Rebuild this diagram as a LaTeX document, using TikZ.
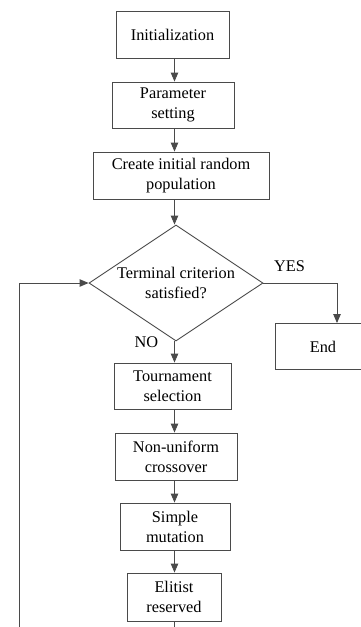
\documentclass[tikz,border=0pt]{standalone}
\usepackage{fontspec}
\setmainfont{Liberation Serif}
\usetikzlibrary{shapes.geometric,arrows.meta}
\definecolor{ln}{HTML}{4A4A4A}
\begin{document}
\begin{tikzpicture}[x=1pt,y=-1pt,
  every node/.style={font=\fontsize{16.3}{20}\selectfont, text=black},
  box/.style={draw=ln, line width=0.9pt, rectangle, inner sep=0pt, align=center},
  dec/.style={draw=ln, line width=0.9pt, diamond, aspect=1.5, inner sep=-12pt, align=center, minimum width=174pt, minimum height=116pt},
  arr/.style={draw=ln, line width=0.9pt, -{Triangle[length=9pt,width=7.5pt]}},
  ln/.style={draw=ln, line width=0.9pt}]
\useasboundingbox (0,0) rectangle (360,627);
\node[box, minimum width=113pt, minimum height=47pt] (init) at (172.5,34.5) {Initialization};
\node[box, minimum width=122pt, minimum height=46pt] (param) at (173,105) {Parameter\\setting};
\node[box, minimum width=176pt, minimum height=47pt] (create) at (181,175.5) {Create initial random\\population};
\node[dec] (dia) at (176,283) {Terminal criterion\\satisfied?};
\node[box, minimum width=96pt, minimum height=46pt] (endb) at (323,346.5) {End};
\node[box, minimum width=117pt, minimum height=46pt] (tour) at (172.5,386) {Tournament\\selection};
\node[box, minimum width=122pt, minimum height=47pt] (cross) at (176,456.5) {Non-uniform\\crossover};
\node[box, minimum width=110pt, minimum height=47pt] (mut) at (175,526.5) {Simple\\mutation};
\node[box, minimum width=94pt, minimum height=48pt] (elit) at (174,597) {Elitist\\reserved};
\node (yes) at (289.5,266) {YES};
\node (no) at (146.5,342) {NO};
\coordinate (spine) at (174.5,0);
\coordinate (bot) at (174.5,627);
\coordinate (loopb) at (19,627);
\coordinate (yescorner) at (337,283);
\draw[arr] (init.south -| spine) -- (param.north -| spine);
\draw[arr] (param.south -| spine) -- (create.north -| spine);
\draw[arr] (create.south -| spine) -- (dia.north -| spine);
\draw[arr] (dia.south -| spine) -- (tour.north -| spine);
\draw[arr] (tour.south -| spine) -- (cross.north -| spine);
\draw[arr] (cross.south -| spine) -- (mut.north -| spine);
\draw[arr] (mut.south -| spine) -- (elit.north -| spine);
\draw[ln] (elit.south -| spine) -- (bot);
\draw[arr] (dia.east) -- (yescorner) -- (yescorner |- endb.north);
\draw[arr] (loopb) |- (dia.west);
\end{tikzpicture}
\end{document}
